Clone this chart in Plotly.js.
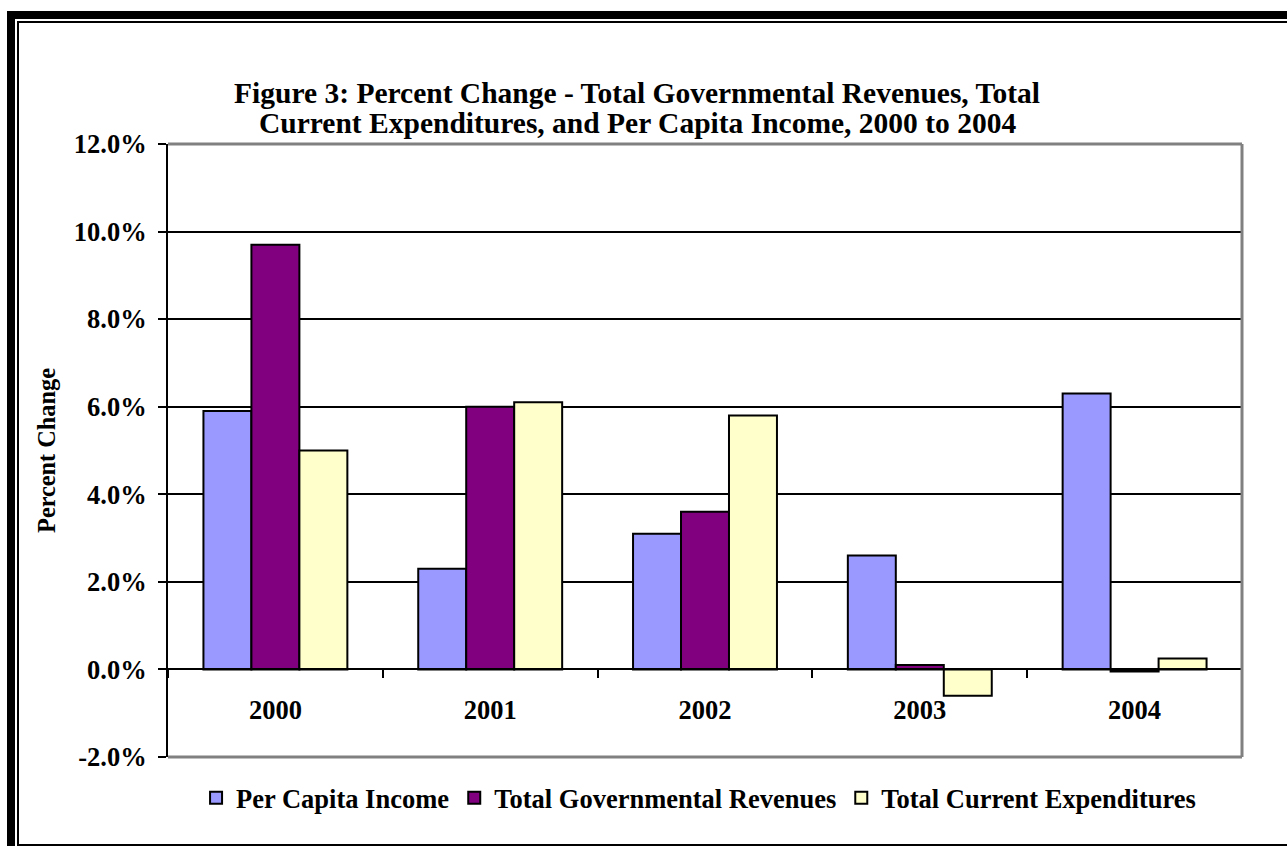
<!DOCTYPE html>
<html>
<head>
<meta charset="utf-8">
<script src="https://cdn.plot.ly/plotly-3.0.1.min.js"></script>
<style>
  html, body { margin: 0; padding: 0; background: #fff; overflow: hidden; }
  #wrap { position: relative; width: 1287px; height: 846px; overflow: hidden; }
  #chart { position: absolute; left: 0; top: 0; width: 1287px; height: 846px; }
  .outer { position: absolute; left: 7px; top: 11px; width: 2000px; height: 2000px; border: 8px solid #000; pointer-events: none; }
  .inner { position: absolute; left: 17px; top: 21px; width: 2000px; height: 821px; border: 2px solid #000; pointer-events: none; }
</style>
</head>
<body>
<div id="wrap">
  <div id="chart"></div>
  <div class="outer"></div>
  <div class="inner"></div>
</div>
<script>
const years = ['2000', '2001', '2002', '2003', '2004'];
const perCapitaIncome = [5.9, 2.3, 3.1, 2.6, 6.3];
const totalGovRevenues = [9.7, 6.0, 3.6, 0.1, -0.05];
const totalCurrentExpenditures = [5.0, 6.1, 5.8, -0.6, 0.25];
const seriesNames = ['Per Capita Income', 'Total Governmental Revenues', 'Total Current Expenditures'];
const seriesColors = ['#9999FF', '#800080', '#FFFFCC'];
const yTicks = [-2, 0, 2, 4, 6, 8, 10, 12];
const yTickLabels = ['-2.0%', '0.0%', '2.0%', '4.0%', '6.0%', '8.0%', '10.0%', '12.0%'];
const titleLine1 = 'Figure 3: Percent Change - Total Governmental Revenues, Total';
const titleLine2 = 'Current Expenditures, and Per Capita Income, 2000 to 2004';

const FONT = '"Liberation Serif", "Times New Roman", serif';
const seriesValues = [perCapitaIncome, totalGovRevenues, totalCurrentExpenditures];

const traces = seriesValues.map((vals, i) => ({
  type: 'bar',
  x: years,
  y: vals,
  name: seriesNames[i],
  marker: { color: seriesColors[i], line: { color: '#000', width: 2 } },
  hoverinfo: 'skip'
}));

const layout = {
  width: 1287,
  height: 846,
  paper_bgcolor: 'rgba(0,0,0,0)',
  plot_bgcolor: '#fff',
  margin: { l: 168, r: 45, t: 144, b: 89 },
  barmode: 'group',
  bargap: 0.33,
  bargroupgap: 0,
  showlegend: true,
  font: { family: FONT, color: '#000' },
  title: {
    text: '<b>' + titleLine1 + '</b>',
    font: { family: FONT, size: 29.5, color: '#000' },
    x: 0.495, xref: 'container', xanchor: 'center',
    y: 1 - 103 / 846, yref: 'container', yanchor: 'bottom'
  },
  annotations: [{
    text: '<b>' + titleLine2 + '</b>',
    font: { family: FONT, size: 29.5, color: '#000' },
    xref: 'paper', yref: 'paper',
    x: (637 - 168) / 1074, xanchor: 'center',
    y: (757 - 141) / 613, yanchor: 'bottom',
    showarrow: false
  }],
  xaxis: {
    type: 'category',
    anchor: 'free',
    position: 2 / 14,
    showline: true, linecolor: '#000', linewidth: 2,
    ticks: 'outside', tickson: 'boundaries', ticklen: 8, tickwidth: 2, tickcolor: '#000',
    ticklabelstandoff: 17,
    showgrid: false,
    tickfont: { family: FONT, size: 26.5, color: '#000', weight: 'bold' },
    fixedrange: true
  },
  yaxis: {
    range: [-2, 12],
    tickmode: 'array',
    tickvals: yTicks,
    ticktext: yTickLabels,
    showline: true, linecolor: '#000', linewidth: 2,
    ticks: 'outside', ticklen: 8, tickwidth: 2, tickcolor: '#000',
    ticklabelstandoff: 6,
    showgrid: true, gridcolor: '#000', gridwidth: 2,
    zeroline: true, zerolinecolor: '#000', zerolinewidth: 2,
    tickfont: { family: FONT, size: 26.5, color: '#000', weight: 'bold' },
    title: { text: '<b>Percent Change</b>', font: { family: FONT, size: 24.3, color: '#000' }, standoff: 11 },
    fixedrange: true
  },
  legend: {
    orientation: 'h',
    x: 0.494, xanchor: 'center',
    y: -0.067, yanchor: 'middle',
    font: { family: FONT, size: 26.5, color: '#000', weight: 'bold' },
    itemclick: false, itemdoubleclick: false,
    tracegroupgap: 0
  },
  shapes: [
    { type: 'line', xref: 'paper', yref: 'paper', x0: 0, x1: 1, y0: 1, y1: 1, line: { color: '#808080', width: 3 }, layer: 'above' },
    { type: 'line', xref: 'paper', yref: 'paper', x0: 1, x1: 1, y0: 0, y1: 1, line: { color: '#808080', width: 3 }, layer: 'above' },
    { type: 'line', xref: 'paper', yref: 'paper', x0: 0, x1: 1, y0: 0, y1: 0, line: { color: '#808080', width: 3 }, layer: 'above' }
  ]
};

Plotly.newPlot('chart', traces, layout, { displayModeBar: false, staticPlot: true });
</script>
</body>
</html>
